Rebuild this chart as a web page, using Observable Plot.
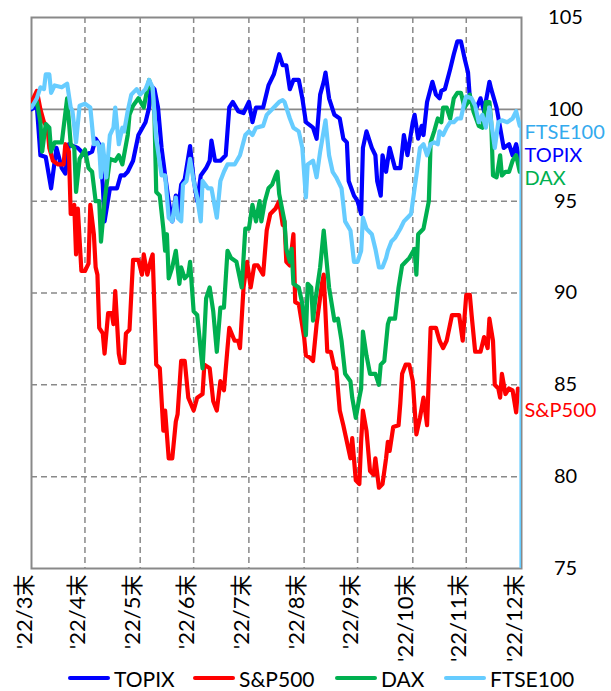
<!DOCTYPE html>
<html>
<head>
<meta charset="utf-8">
<script src="https://cdn.jsdelivr.net/npm/d3@7"></script>
<script src="https://cdn.jsdelivr.net/npm/@observablehq/plot@0.6"></script>
<style>
  body { margin: 0; background: #fff; font-family: "Lato", "Noto Sans CJK JP", sans-serif; }
  #chart { width: 611px; height: 665px; }
  #legend { position: relative; height: 26px; font-size: 21px; color: #000; }
  .item { position: absolute; top: 0; height: 26px; display: flex; align-items: center; white-space: nowrap; }
  .sw { width: 42px; height: 4px; border-radius: 2px; margin-right: 4px; }
</style>
</head>
<body>
<div id="chart"></div>
<div id="legend"></div>
<script>
// ---- data (day offset from 2022-03-31, index value) ----
const seriesNames = ["TOPIX", "S&P500", "DAX", "FTSE100"];
const seriesColors = ["#0000ff", "#ff0000", "#00b050", "#66ccff"];
const labelColors = ["#0000ff", "#ff0000", "#00b050", "#33aaee"];

const topix = [[0,100],[3,100.2],[5,97.5],[8,97.4],[11,95.7],[14,97.9],[17,96.8],[19,96.5],[21,98.1],[26,97.9],[30,97.5],[34,97.7],[36,98.4],[38,98.1],[40,95.9],[41,93.9],[44,95.7],[48,95.7],[50,96.4],[52,96.4],[54,96.6],[57,97.2],[60,98.6],[64,99.3],[66,100.1],[67,101.3],[69,101.1],[71,100.1],[73,97.9],[75,96.4],[77,95.0],[79,93.9],[81,95.3],[82,94.3],[84,95.9],[86,96.2],[89,98.0],[91,96.2],[93,95.0],[95,96.4],[98,96.8],[100,97.2],[101,98.3],[103,97.2],[106,97.2],[109,97.5],[111,100.1],[113,100.4],[116,99.9],[119,99.8],[122,100.4],[124,99.3],[126,100.1],[130,100.1],[133,101.3],[136,101.9],[139,103.0],[141,102.4],[143,102.4],[145,101.1],[147,101.6],[150,101.6],[152,100.6],[154,99.3],[158,99.0],[160,98.4],[162,100.8],[164,101.5],[165,102.0],[167,100.6],[170,99.7],[173,99.5],[175,98.4],[177,98.2],[178,96.1],[181,95.3],[183,95.0],[185,94.3],[186,97.9],[188,98.8],[191,97.9],[193,97.5],[194,96.1],[196,95.3],[197,97.5],[199,96.6],[201,97.9],[204,96.8],[207,96.8],[209,98.6],[211,97.5],[214,99.3],[215,99.7],[217,98.4],[219,99.1],[220,98.6],[222,100.4],[225,101.5],[227,100.8],[229,100.6],[230,101.0],[232,101.1],[235,102.2],[237,103.0],[239,103.7],[241,103.7],[243,102.8],[245,102.0],[246,100.6],[249,99.9],[252,100.6],[254,99.9],[257,101.5],[258,101.1],[261,100.1],[263,99.0],[265,97.9],[268,98.1],[270,97.5],[272,98.1],[274,97.2],[275,97.5]];

const sp500 = [[0,100.4],[3,101.0],[5,100],[7,99.3],[9,99.0],[10,97.9],[12,97.2],[15,97.0],[18,97.0],[19,98.1],[21,97.7],[22,94.3],[23,94.3],[24,94.8],[25,92.1],[26,94.6],[28,91.2],[30,91.2],[32,91.6],[33,94.8],[35,93.2],[36,91.4],[37,91.0],[38,88.1],[40,87.8],[41,86.7],[43,88.9],[45,88.9],[46,88.3],[47,90.1],[49,86.7],[50,86.2],[52,86.2],[53,87.8],[55,88.0],[56,89.9],[57,91.8],[60,91.8],[62,91.0],[63,92.1],[65,91.0],[67,91.8],[68,92.1],[70,86.1],[72,85.9],[74,82.5],[75,83.6],[77,81.0],[79,81.0],[81,83.0],[82,83.4],[84,86.3],[86,86.3],[88,84.3],[91,83.6],[93,84.3],[96,84.5],[97,86.1],[100,85.9],[102,84.1],[104,83.6],[106,85.2],[108,84.7],[110,87.0],[111,88.1],[114,87.4],[116,87.4],[117,87.0],[119,90.3],[121,91.7],[123,90.3],[125,91.5],[127,91.5],[130,91.0],[132,93.4],[134,94.3],[137,94.6],[139,95.0],[141,93.7],[142,93.9],[143,91.7],[145,91.5],[147,93.2],[148,89.5],[150,89.4],[153,87.6],[154,86.6],[156,86.5],[158,86.3],[160,88.3],[163,90.5],[164,91.0],[166,86.8],[168,86.8],[170,85.9],[171,85.9],[173,83.6],[175,82.8],[177,81.9],[179,81.0],[180,82.1],[182,79.8],[184,79.6],[185,81.9],[186,83.6],[188,82.5],[190,80.3],[192,80.1],[193,81.0],[195,79.4],[197,79.6],[199,81.0],[200,81.9],[201,81.4],[203,82.7],[206,82.8],[207,84.0],[208,85.6],[210,86.1],[212,86.1],[214,85.2],[216,82.3],[218,83.2],[220,84.3],[222,82.8],[224,88.1],[227,88.1],[229,87.4],[231,87.0],[233,87.4],[236,88.8],[240,88.8],[242,87.4],[244,89.9],[246,89.9],[247,88.8],[249,86.8],[252,86.8],[254,87.6],[256,87.0],[257,88.6],[259,87.4],[260,85.0],[262,84.8],[263,84.3],[264,85.6],[266,84.5],[268,84.8],[270,84.7],[272,83.5],[273,84.8],[275,84.7]];

const dax = [[0,100.2],[3,100.4],[5,99.3],[6,97.7],[8,99.2],[10,99.0],[11,97.7],[13,98.2],[17,98.2],[20,100.6],[22,98.1],[24,97.9],[25,95.5],[27,97.3],[30,97.8],[32,96.8],[34,96.6],[36,95.0],[38,95.0],[39,92.8],[41,95.0],[44,97.3],[47,97.2],[49,97.5],[51,97.0],[54,98.6],[55,99.7],[57,100.2],[60,100.6],[63,100.1],[66,101.6],[68,101.0],[69,99.7],[70,95.5],[72,95.3],[74,93.5],[75,92.3],[76,93.2],[77,90.8],[79,91.4],[81,92.3],[83,90.5],[84,91.4],[86,90.8],[88,91.0],[89,91.7],[91,89.0],[93,88.8],[96,85.9],[97,87.7],[98,89.7],[100,90.3],[102,89.0],[104,86.8],[106,89.2],[108,89.2],[110,92.3],[112,91.9],[115,91.7],[118,90.3],[120,93.5],[122,93.5],[124,94.8],[126,93.9],[128,95.0],[129,93.9],[131,95.0],[133,95.7],[135,95.9],[137,96.4],[138,96.6],[139,95.4],[142,93.9],[143,92.4],[145,91.7],[146,92.4],[147,90.5],[150,90.3],[152,89.4],[154,87.7],[155,90.5],[157,90.3],[158,88.5],[159,89.4],[162,91.4],[164,93.4],[167,90.3],[170,88.5],[172,88.6],[174,87.4],[176,85.6],[179,85.2],[180,84.3],[182,83.2],[184,84.3],[185,84.8],[186,87.9],[188,86.6],[190,85.6],[193,85.6],[195,85.0],[196,86.1],[198,86.3],[200,88.3],[201,88.6],[204,88.6],[206,90.3],[208,91.5],[210,91.7],[212,91.9],[215,92.4],[216,91.0],[217,93.2],[220,93.5],[223,95.0],[224,98.2],[226,98.8],[228,99.5],[230,99.3],[231,100.1],[233,100.1],[235,99.5],[237,100.6],[239,100.9],[241,100.9],[243,100.1],[245,100.4],[246,100.8],[248,99.9],[251,99.1],[253,99.0],[255,100.4],[257,100.4],[258,99.3],[259,96.4],[261,96.3],[263,97.5],[264,96.4],[266,96.6],[268,96.6],[270,97.2],[272,97.5],[274,96.6],[275,96.7]];

const ftse100 = [[0,100.1],[3,100.6],[5,101.2],[7,101.1],[8,101.9],[10,101.9],[11,100.9],[13,101.3],[17,101.2],[20,101.4],[22,100.1],[23,99.9],[25,98.2],[27,100.2],[30,100.3],[33,100.1],[35,98.1],[37,98.2],[38,97.9],[39,96.3],[40,98.1],[42,96.3],[44,98.6],[46,99.0],[47,100.1],[49,98.1],[51,99.0],[52,98.8],[54,99.9],[56,100.8],[59,101.1],[61,100.8],[64,101.1],[66,101.6],[68,101.2],[70,98.4],[73,96.4],[75,96.4],[77,94.1],[79,93.9],[81,95.2],[82,94.1],[84,93.9],[85,95.9],[87,96.1],[89,97.3],[91,96.1],[93,95.2],[95,93.9],[96,96.1],[99,95.7],[101,95.7],[104,94.1],[106,96.1],[108,96.6],[110,97.0],[113,97.0],[114,97.0],[117,97.5],[120,98.6],[122,98.8],[124,98.6],[126,99.0],[130,99.1],[132,99.7],[136,100.1],[139,100.4],[141,100.5],[142,100.4],[145,99.5],[147,99.0],[150,98.8],[152,97.9],[154,95.2],[155,97.0],[158,97.2],[160,96.3],[162,97.7],[165,99.4],[167,97.5],[169,96.6],[171,96.3],[174,95.7],[176,93.9],[179,93.4],[181,91.7],[183,91.7],[185,92.3],[186,94.1],[188,93.5],[191,93.2],[193,92.4],[195,91.4],[197,91.4],[199,91.9],[200,92.3],[202,92.8],[204,93.0],[207,93.5],[209,93.9],[211,94.1],[213,94.3],[214,95.0],[216,96.4],[218,97.9],[220,98.1],[222,97.5],[224,98.1],[226,98.2],[228,98.1],[229,98.8],[231,98.6],[233,99.0],[235,99.3],[237,99.3],[239,99.5],[241,99.5],[243,100.4],[244,100.7],[247,100.6],[249,100.2],[251,99.3],[253,99.7],[255,99.0],[257,100.1],[258,99.3],[260,97.9],[262,99.3],[264,99.4],[267,99.3],[270,99.5],[272,99.9],[274,99.1],[275,99.2],[275,0]];

const monthLabels = ["'22/3末","'22/4末","'22/5末","'22/6末","'22/7末","'22/8末","'22/9末","'22/10末","'22/11末","'22/12末"];
const monthEnds = ["2022-03-31","2022-04-30","2022-05-31","2022-06-30","2022-07-31","2022-08-31","2022-09-30","2022-10-31","2022-11-30","2022-12-31"];
const yTicks = [75, 80, 85, 90, 95, 100, 105];

// ---- build ----
const start = Date.UTC(2022, 2, 31);
const toDate = d => new Date(start + d * 864e5);
const allSeries = [topix, sp500, dax, ftse100];
const rows = allSeries.flatMap((s, i) => s.map(([d, v]) => ({name: seriesNames[i], date: toDate(d), value: v})));
const months = monthEnds.map((m, i) => ({date: new Date(m + "T00:00:00Z"), label: monthLabels[i]}));
const labelDy = [0, 20, 9, 9];
const ends = allSeries.map((s, i) => {
  const valid = s.filter(p => p[1] > 75);
  const last = valid[valid.length - 1];
  return {name: seriesNames[i], date: toDate(last[0]), value: last[1], color: labelColors[i], dy: labelDy[i]};
});

const font = "Lato, 'Noto Sans CJK JP', sans-serif";
const grid = "#898989";

const plot = Plot.plot({
  width: 611,
  height: 665,
  marginLeft: 31,
  marginRight: 90,
  marginTop: 17,
  marginBottom: 97,
  style: {fontFamily: font, background: "#fff", overflow: "visible"},
  x: {type: "utc", domain: [new Date(monthEnds[0] + "T00:00:00Z"), new Date(monthEnds[9] + "T00:00:00Z")], axis: null},
  y: {domain: [75, 105], axis: null},
  marks: [
    Plot.ruleY(yTicks.filter(v => v > 75 && v < 100), {y: d => d, stroke: grid, strokeWidth: 1.5, strokeDasharray: "6,4"}),
    Plot.ruleX(months.slice(1, 9), {x: "date", stroke: grid, strokeWidth: 1.5, strokeDasharray: "6,4"}),
    Plot.ruleY([100], {stroke: grid, strokeWidth: 1.8}),
    Plot.frame({stroke: grid, strokeWidth: 2}),
    ...seriesNames.map((n, i) => Plot.line(rows.filter(r => r.name === n), {
      x: "date", y: "value", stroke: seriesColors[i], strokeWidth: 4.2, strokeLinejoin: "round", clip: true
    })),
    Plot.text(yTicks, {y: d => d, text: d => String(d), frameAnchor: "right", dx: 44, textAnchor: "middle", fontSize: 20, fill: "#000"}),
    Plot.text(months, {x: "date", text: "label", frameAnchor: "bottom", rotate: -90, textAnchor: "end", dy: 6, fontSize: 22, fill: "#000"}),
    ...ends.map(e => Plot.text([e], {x: "date", y: "value", text: "name", textAnchor: "start", dx: 3, dy: e.dy, fontSize: 20, fill: e.color}))
  ]
});
document.getElementById("chart").appendChild(plot);

const legendLeft = [68, 193, 335, 444];
const legend = document.getElementById("legend");
seriesNames.forEach((n, i) => {
  const item = document.createElement("div");
  item.className = "item";
  item.style.left = legendLeft[i] + "px";
  item.innerHTML = `<span class="sw" style="background:${seriesColors[i]}"></span><span>${n.replace("&", "&amp;")}</span>`;
  legend.appendChild(item);
});
</script>
</body>
</html>
